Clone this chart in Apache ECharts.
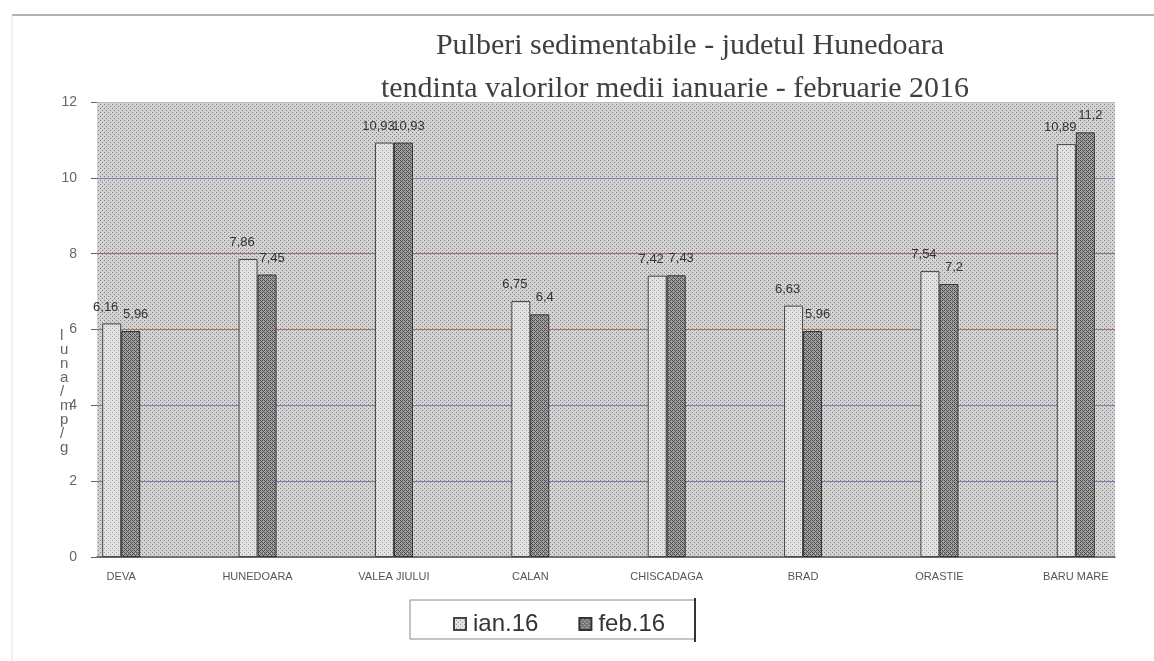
<!DOCTYPE html>
<html>
<head>
<meta charset="utf-8">
<script src="https://cdn.jsdelivr.net/npm/echarts@6/dist/echarts.min.js"></script>
<style>
html,body{margin:0;padding:0;background:#fff;}
#chart{width:1154px;height:661px;}
</style>
</head>
<body>
<div id="chart"></div>
<script>
const categories = ['DEVA','HUNEDOARA','VALEA JIULUI','CALAN','CHISCADAGA','BRAD','ORASTIE','BARU MARE'];
const ian16 = [6.16, 7.86, 10.93, 6.75, 7.42, 6.63, 7.54, 10.89];
const feb16 = [5.96, 7.45, 10.93, 6.4, 7.43, 5.96, 7.2, 11.2];
const seriesNames = ['ian.16', 'feb.16'];
const yTicks = [0, 2, 4, 6, 8, 10, 12];
const titleLines = ['Pulberi sedimentabile - judetul Hunedoara', 'tendinta valorilor medii ianuarie - februarie 2016'];
const yAxisName = 'luna/mp/g';

function makePattern(bg, dot, size, pts) {
  const c = document.createElement('canvas');
  c.width = size; c.height = size;
  const g = c.getContext('2d');
  g.fillStyle = bg; g.fillRect(0, 0, size, size);
  g.fillStyle = dot;
  pts.forEach(p => g.fillRect(p[0], p[1], 1, 1));
  return {image: c, repeat: 'repeat'};
}
const bgPattern = makePattern('#d2d2d2', '#7e7e7e', 4, [[0,0],[2,2]]);
const ianPattern = makePattern('#e2e2e2', '#9c9c9c', 4, [[0,0],[2,2]]);
const febPattern = makePattern('#a2a2a2', '#4c4c4c', 4, [[0,0],[1,1],[2,2],[3,3],[0,2],[2,0]]);

const fmt = p => String(p.value).replace('.', ',');

const chart = echarts.init(document.getElementById('chart'));
chart.setOption({
  animation: false,
  backgroundColor: '#ffffff',
  title: [
    {text: titleLines[0], left: 685, top: 26, textAlign: 'center',
     textStyle: {fontFamily: 'Liberation Serif', fontSize: 30, fontWeight: 'normal', color: '#404040'}},
    {text: titleLines[1], left: 670, top: 69, textAlign: 'center',
     textStyle: {fontFamily: 'Liberation Serif', fontSize: 30, fontWeight: 'normal', color: '#404040'}}
  ],
  legend: {
    data: seriesNames,
    icon: 'rect',
    left: 448, top: 607,
    itemWidth: 12, itemHeight: 12, itemGap: 40,
    textStyle: {fontFamily: 'Liberation Sans', fontSize: 24, color: '#333', padding: [0, 0, 0, 2]}
  },
  grid: [
    {left: 97, right: 39, top: 102, bottom: 104, show: true, backgroundColor: bgPattern, borderWidth: 0},
    {left: 53, right: 10, top: 102, bottom: 104}
  ],
  xAxis: [
    {type: 'category', gridIndex: 0, data: categories, show: true,
     axisLine: {show: true, lineStyle: {color: '#555', width: 1.5}},
     axisTick: {show: false}, axisLabel: {show: false}},
    {type: 'category', gridIndex: 1, data: categories,
     axisLine: {show: false}, axisTick: {show: false},
     axisLabel: {fontFamily: 'Liberation Sans', fontSize: 11, color: '#555', margin: 14}}
  ],
  yAxis: [
    {type: 'value', gridIndex: 0, min: 0, max: 12, interval: 2,
     axisLine: {show: false},
     axisTick: {show: true, length: 6, lineStyle: {color: '#666'}},
     axisLabel: {fontFamily: 'Liberation Sans', fontSize: 14, color: '#666', margin: 20},
     splitLine: {show: true, lineStyle: {color: ['#bbb', '#7080ad', '#7b83b5', '#a8785e', '#9a6a8a', '#7383b0', '#c9b9a0'], width: 1.2}}},
    {type: 'value', gridIndex: 1, min: 0, max: 12, interval: 2, show: false}
  ],
  graphic: [
    {type: 'line', shape: {x1: 12, y1: 15, x2: 1154, y2: 15}, style: {stroke: '#999', lineWidth: 1.5}},
    {type: 'line', shape: {x1: 12, y1: 15, x2: 12, y2: 661}, style: {stroke: '#e2e2e2', lineWidth: 1}},
    {type: 'rect', shape: {x: 410, y: 600, width: 285, height: 39}, style: {fill: 'none', stroke: '#888', lineWidth: 1}},
    {type: 'line', shape: {x1: 695, y1: 598, x2: 695, y2: 642}, style: {stroke: '#333', lineWidth: 2}},
    {type: 'text', left: 60, top: 328, style: {text: yAxisName.split('').join('\n'), fontFamily: 'Liberation Sans', fontSize: 15, lineHeight: 14, fill: '#666'}}
  ],
  series: [
    {name: seriesNames[0], type: 'bar', xAxisIndex: 1, yAxisIndex: 1, data: ian16,
     barWidth: 19, barGap: '0%',
     itemStyle: {color: ianPattern, borderColor: '#444', borderWidth: 1},
     label: {show: true, position: 'top', distance: 10, offset: [-6, 0], formatter: fmt,
             fontFamily: 'Liberation Sans', fontSize: 13, color: '#333'}},
    {name: seriesNames[1], type: 'bar', xAxisIndex: 1, yAxisIndex: 1, data: feb16,
     barWidth: 19,
     itemStyle: {color: febPattern, borderColor: '#333', borderWidth: 1},
     label: {show: true, position: 'top', distance: 10, offset: [5, 0], formatter: fmt,
             fontFamily: 'Liberation Sans', fontSize: 13, color: '#333'}}
  ]
});
</script>
</body>
</html>
